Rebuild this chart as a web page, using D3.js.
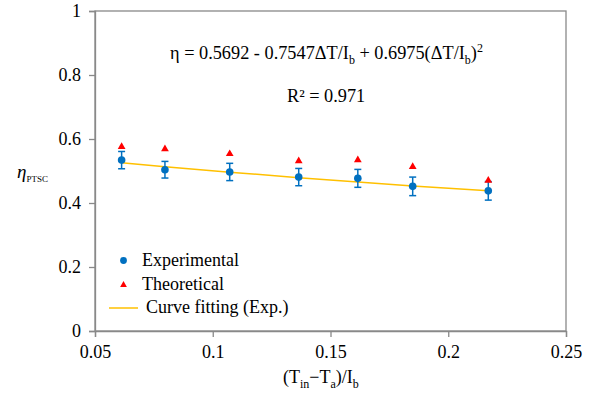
<!DOCTYPE html>
<html>
<head>
<meta charset="utf-8">
<script src="https://cdn.jsdelivr.net/npm/d3@7"></script>
<style>
  body { margin: 0; background: #fff; }
  svg text, svg tspan { font-family: "Liberation Serif", "Times New Roman", serif !important; fill: #000; }
</style>
</head>
<body>
<svg id="chart" width="592" height="396"></svg>
<script>
// data
const xVals = [0.0613, 0.0797, 0.1072, 0.1365, 0.1616, 0.1849, 0.2170];
const expVals = [0.534, 0.504, 0.497, 0.481, 0.477, 0.452, 0.438];
const expErr = [0.027, 0.026, 0.027, 0.027, 0.028, 0.029, 0.029];
const theoVals = [0.578, 0.571, 0.556, 0.534, 0.537, 0.516, 0.473];
const fitVals = [0.5256, 0.5135, 0.4963, 0.4792, 0.4655, 0.4535, 0.4383];
const xTicks = [0.05, 0.1, 0.15, 0.2, 0.25];
const yTicks = [0, 0.2, 0.4, 0.6, 0.8, 1];
const legendLabels = ["Experimental", "Theoretical", "Curve fitting (Exp.)"];

const blue = "#0070C0", red = "#FF0000", gold = "#FFC000", axisGray = "#898989";
const serif = "'Liberation Serif', 'Times New Roman', serif";

const svg = d3.select("#chart");
const plotL = 95, plotR = 566, plotT = 11, plotB = 331;

const x = d3.scaleLinear().domain([0.05, 0.25]).range([plotL, plotR]);
const y = d3.scaleLinear().domain([0, 1]).range([plotB, plotT]);

// plot frame
svg.append("rect")
    .attr("x", plotL).attr("y", plotT)
    .attr("width", plotR - plotL).attr("height", plotB - plotT)
    .attr("fill", "none").attr("stroke", axisGray).attr("stroke-width", 1.3);

const xAxis = svg.append("g")
    .attr("transform", `translate(0,${plotB})`)
    .call(d3.axisBottom(x).tickValues(xTicks).tickSize(6).tickPadding(8)
        .tickFormat(d => d3.format("")(+d.toFixed(2))));

const yAxis = svg.append("g")
    .attr("transform", `translate(${plotL},0)`)
    .call(d3.axisLeft(y).tickValues(yTicks).tickSize(6).tickPadding(8)
        .tickFormat(d => d3.format("")(+d.toFixed(1))));

[xAxis, yAxis].forEach(g => {
    g.attr("font-family", null).attr("font-size", null);
    g.select(".domain").attr("stroke", axisGray).attr("stroke-width", 1.3);
    g.selectAll(".tick line").attr("stroke", axisGray).attr("stroke-width", 1.3);
    g.selectAll(".tick text")
        .style("font-family", serif).style("font-size", "18px").attr("fill", "#000");
});

// fitted curve
svg.append("path")
    .datum(xVals.map((d, i) => [d, fitVals[i]]))
    .attr("fill", "none").attr("stroke", gold).attr("stroke-width", 1.5)
    .attr("d", d3.line().x(d => x(d[0])).y(d => y(d[1])));

// error bars
const eb = svg.append("g").attr("stroke", blue).attr("stroke-width", 1.5);
xVals.forEach((d, i) => {
    const cx = x(d), y1 = y(expVals[i] + expErr[i]), y2 = y(expVals[i] - expErr[i]);
    eb.append("line").attr("x1", cx).attr("x2", cx).attr("y1", y1).attr("y2", y2);
    eb.append("line").attr("x1", cx - 3.5).attr("x2", cx + 3.5).attr("y1", y1).attr("y2", y1);
    eb.append("line").attr("x1", cx - 3.5).attr("x2", cx + 3.5).attr("y1", y2).attr("y2", y2);
});

// experimental points
svg.append("g").selectAll("circle")
    .data(xVals)
    .enter()
    .append("circle")
    .attr("cx", d => x(d))
    .attr("cy", (d, i) => y(expVals[i]))
    .attr("r", 3.8)
    .attr("fill", blue);

// theoretical points
const tri = d3.symbol().type(d3.symbolTriangle).size(26);
svg.append("g").selectAll("path")
    .data(xVals)
    .enter()
    .append("path")
    .attr("d", tri)
    .attr("transform", (d, i) => `translate(${x(d)},${y(theoVals[i]) + 0.8})`)
    .attr("fill", red);

// equation + R²
const eq = svg.append("text").attr("x", 170).attr("y", 59).style("font-size", "18.3px");
eq.append("tspan").text("η = 0.5692 - 0.7547ΔT/I");
eq.append("tspan").text("b").style("font-size", "12px").attr("dy", 5);
eq.append("tspan").text(" + 0.6975(ΔT/I").attr("dy", -5);
eq.append("tspan").text("b").style("font-size", "12px").attr("dy", 5);
eq.append("tspan").text(")").attr("dy", -5);
eq.append("tspan").text("2").style("font-size", "12px").attr("dy", -7);

svg.append("text").attr("x", 287).attr("y", 102).style("font-size", "18.3px").text("R² = 0.971");

// legend
const lg = svg.append("g");
lg.append("circle").attr("cx", 123.5).attr("cy", 260.5).attr("r", 3.4).attr("fill", blue);
lg.append("path").attr("d", d3.symbol().type(d3.symbolTriangle).size(20))
    .attr("transform", "translate(123.5,285)").attr("fill", red);
lg.append("line").attr("x1", 109).attr("x2", 138).attr("y1", 308).attr("y2", 308)
    .attr("stroke", gold).attr("stroke-width", 1.5);
lg.selectAll("text")
    .data(legendLabels)
    .enter()
    .append("text")
    .attr("x", (d, i) => i === 2 ? 146 : 142)
    .attr("y", (d, i) => 266 + i * 23.5)
    .style("font-size", "18px")
    .text(d => d);

// y axis title
const yt = svg.append("text").attr("x", 17).attr("y", 178);
yt.append("tspan").text("η").style("font-size", "19px").style("font-style", "italic");
yt.append("tspan").text("PTSC").style("font-size", "9px").attr("dy", 4);

// x axis title
const xt = svg.append("text").attr("x", 283).attr("y", 383).style("font-size", "18px");
xt.append("tspan").text("(T");
xt.append("tspan").text("in").style("font-size", "12px").attr("dy", 5);
xt.append("tspan").text("−T").attr("dy", -5);
xt.append("tspan").text("a").style("font-size", "12px").attr("dy", 5);
xt.append("tspan").text(")/I").attr("dy", -5);
xt.append("tspan").text("b").style("font-size", "12px").attr("dy", 5);
</script>
</body>
</html>
